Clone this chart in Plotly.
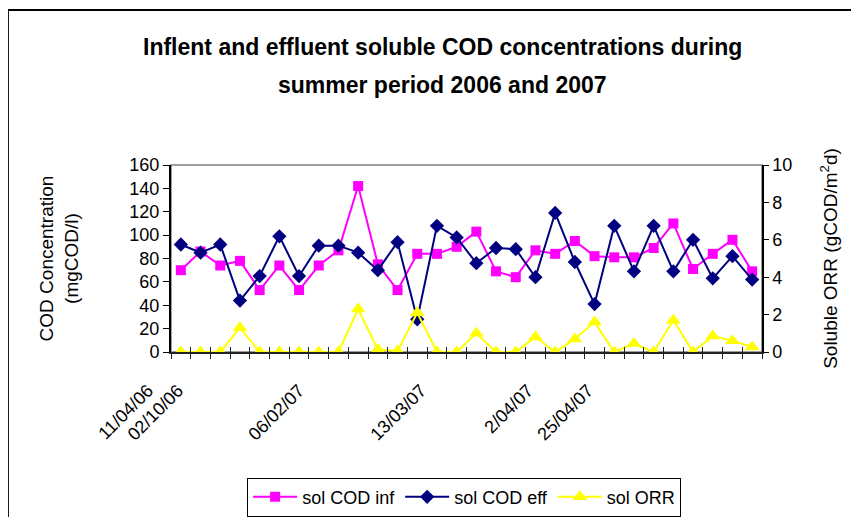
import plotly.graph_objects as go

# ---- data ----
sample_index = list(range(1, 31))
sol_cod_inf = [70, 86, 74, 78, 53, 74, 53, 74, 87, 142, 75, 53, 84, 84, 90, 103, 69, 64, 87, 84,
               95, 82, 81, 81, 89, 110, 71, 84, 96, 69]
sol_cod_eff = [92, 85, 92, 44, 65, 99, 65, 91, 91, 85, 70, 94, 28, 108, 98, 76, 89, 88, 64, 119,
               77, 41, 108, 69, 108, 69, 96, 63, 82, 62]
sol_orr = [0, 0, 0, 1.3, 0, 0, 0, 0, 0, 2.3, 0.13, 0.05, 2.1, 0, 0, 1.0, 0, 0, 0.8, 0,
           0.7, 1.6, 0, 0.45, 0, 1.7, 0, 0.85, 0.6, 0.27]
date_labels = ["11/04/06", "02/10/06", "06/02/07", "13/03/07", "2/04/07", "25/04/07"]
label_positions = [1.36, 2.89, 9.03, 15.22, 20.65, 23.70]

FONT = "Liberation Sans, Arial, sans-serif"

fig = go.Figure()
fig.add_trace(go.Scatter(
    x=sample_index, y=sol_cod_inf, name="sol COD inf", mode="lines+markers",
    line=dict(color="#FF00FF", width=2),
    marker=dict(symbol="square", size=10, color="#FF00FF"),
    xaxis="x", yaxis="y"))
fig.add_trace(go.Scatter(
    x=sample_index, y=sol_cod_eff, name="sol COD eff", mode="lines+markers",
    line=dict(color="#000080", width=2),
    marker=dict(symbol="diamond", size=11, color="#000080"),
    xaxis="x", yaxis="y"))
fig.add_trace(go.Scatter(
    x=sample_index, y=sol_orr, name="sol ORR", mode="lines+markers",
    line=dict(color="#FFFF00", width=2),
    marker=dict(symbol="triangle-up", size=13, color="#FFFF00"),
    xaxis="x2", yaxis="y2"))

fig.update_layout(
    width=851, height=509,
    margin=dict(l=163, r=97, t=157, b=165, autoexpand=False),
    paper_bgcolor="white", plot_bgcolor="white",
    font=dict(family=FONT, size=18, color="black"),
    showlegend=True,
    legend=dict(orientation="h", x=0.496, xanchor="center", y=-0.672, yanchor="top",
                bordercolor="black", borderwidth=1, font=dict(size=18, family=FONT),
                traceorder="normal", itemwidth=44),
    xaxis=dict(
        range=[0.5, 30.5], tickmode="array", tickvals=label_positions, ticktext=date_labels,
        tickangle=-45, ticks="", ticklabelshift=-40, ticklabelstandoff=19,
        showline=True, linecolor="#222", linewidth=2, showgrid=False, zeroline=False,
        tickfont=dict(size=18, family=FONT),
        minor=dict(tickmode="linear", tick0=0.5, dtick=1, ticks="outside", ticklen=5,
                   tickcolor="#222", tickwidth=1, showgrid=False),
    ),
    xaxis2=dict(
        range=[0.5, 30.5], overlaying="x", anchor="y", side="bottom", matches="x",
        tickmode="linear", tick0=0.5, dtick=1, ticks="inside", ticklen=5,
        tickcolor="#222", tickwidth=1, showticklabels=False, showline=False,
        showgrid=False, zeroline=False,
    ),
    yaxis=dict(
        range=[0, 160], dtick=20, ticks="outside", ticklen=6, tickcolor="black",
        showline=True, linecolor="black", linewidth=2, showgrid=False, zeroline=False,
        title=dict(text="COD Concentration<br>(mgCOD/l)", font=dict(size=19, family=FONT),
                   standoff=46),
        tickfont=dict(size=18, family=FONT),
    ),
    yaxis2=dict(
        range=[0, 10], dtick=2, overlaying="y", side="right", anchor="x2",
        ticks="outside", ticklen=5, tickcolor="black",
        showline=True, linecolor="black", linewidth=1.5, showgrid=False, zeroline=False,
        title=dict(text="Soluble ORR (gCOD/m<sup>2</sup>d)", font=dict(size=19, family=FONT),
                   standoff=32),
        tickfont=dict(size=18, family=FONT),
    ),
    shapes=[
        dict(type="rect", xref="paper", yref="paper", x0=0, x1=1, y0=0, y1=1,
             line=dict(color="#808080", width=1.5), layer="below"),
        dict(type="rect", xref="paper", yref="paper", x0=-0.276, x1=1.3, y0=-1.2, y1=1.829,
             line=dict(color="black", width=2), layer="below"),
    ],
    annotations=[
        dict(text="<b>Inflent and effluent soluble COD concentrations during</b>",
             xref="paper", yref="paper", x=0.46, y=1.631, showarrow=False,
             xanchor="center", yanchor="middle", font=dict(size=23, family=FONT)),
        dict(text="<b>summer period 2006 and 2007</b>",
             xref="paper", yref="paper", x=0.46, y=1.428, showarrow=False,
             xanchor="center", yanchor="middle", font=dict(size=23, family=FONT)),
    ],
)

fig.write_html("out.html")
